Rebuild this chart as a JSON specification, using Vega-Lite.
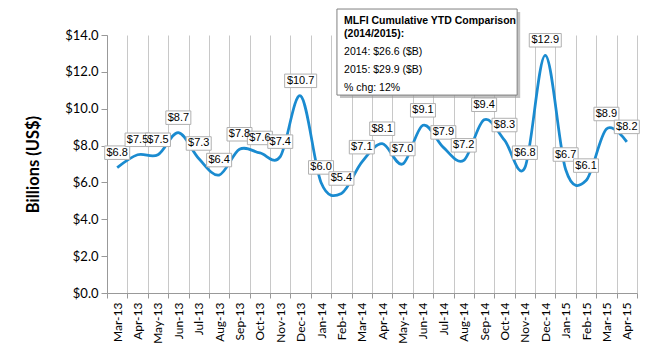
{
  "$schema": "https://vega.github.io/schema/vega-lite/v6.json",
  "width": 530,
  "height": 258,
  "autosize": {"type": "none"},
  "padding": {"left": 107, "top": 35, "right": 13, "bottom": 57},
  "background": "white",
  "config": {"view": {"stroke": null}, "font": "Liberation Sans"},
  "data": {
    "values": [
      {"m": "Mar-13", "v": 6.8}, {"m": "Apr-13", "v": 7.5}, {"m": "May-13", "v": 7.5},
      {"m": "Jun-13", "v": 8.7}, {"m": "Jul-13", "v": 7.3}, {"m": "Aug-13", "v": 6.4},
      {"m": "Sep-13", "v": 7.8}, {"m": "Oct-13", "v": 7.6}, {"m": "Nov-13", "v": 7.4},
      {"m": "Dec-13", "v": 10.7}, {"m": "Jan-14", "v": 6.0}, {"m": "Feb-14", "v": 5.4},
      {"m": "Mar-14", "v": 7.1}, {"m": "Apr-14", "v": 8.1}, {"m": "May-14", "v": 7.0},
      {"m": "Jun-14", "v": 9.1}, {"m": "Jul-14", "v": 7.9}, {"m": "Aug-14", "v": 7.2},
      {"m": "Sep-14", "v": 9.4}, {"m": "Oct-14", "v": 8.3}, {"m": "Nov-14", "v": 6.8},
      {"m": "Dec-14", "v": 12.9}, {"m": "Jan-15", "v": 6.7}, {"m": "Feb-15", "v": 6.1},
      {"m": "Mar-15", "v": 8.9}, {"m": "Apr-15", "v": 8.2}
    ]
  },
  "layer": [
    {
      "encoding": {
        "x": {
          "field": "m", "type": "ordinal", "sort": null,
          "scale": {"type": "band", "paddingInner": 0, "paddingOuter": 0},
          "axis": {
            "title": null, "tickBand": "extent", "grid": true, "gridColor": "#c8c8c8",
            "labelAngle": -90, "labelFont": "Lato", "labelFontSize": 12, "labelColor": "#000",
            "labelOverlap": false,
            "domainColor": "#999", "tickColor": "#999", "tickSize": 5, "labelPadding": 4
          }
        },
        "y": {
          "field": "v", "type": "quantitative",
          "scale": {"domain": [0, 14], "nice": false},
          "axis": {
            "values": [0, 2, 4, 6, 8, 10, 12, 14], "format": "$.1f", "grid": false,
            "labelOverlap": false, "labelFlush": false,
            "domainColor": "#999", "tickColor": "#999", "tickSize": 6,
            "labelFont": "Lato", "labelFontSize": 13, "labelColor": "#000", "labelPadding": 3,
            "title": "Billions (US$)", "titleFont": "Lato", "titleFontSize": 16.5,
            "titleFontWeight": "bold", "titleColor": "#000", "titlePadding": 23
          }
        }
      },
      "layer": [
        {"mark": {"type": "line", "interpolate": "cardinal", "color": "#1a8bd0", "strokeWidth": 2.75}},
        {
          "mark": {"type": "point", "filled": true, "fill": "white", "stroke": "#b0b0b0", "strokeWidth": 1, "opacity": 1, "yOffset": -15},
          "encoding": {
            "shape": {"condition": {"test": "datum.v >= 10", "value": "M-1.28,-0.54H1.28V0.54H-1.28Z"}, "value": "M-1,-0.54H1V0.54H-1Z"},
            "size": {"value": 625}
          }
        },
        {
          "mark": {"type": "text", "yOffset": -15, "fontSize": 11, "font": "Liberation Sans", "color": "#000", "baseline": "middle"},
          "encoding": {"text": {"field": "v", "type": "quantitative", "format": "$.1f"}}
        }
      ]
    },
    {
      "data": {"values": [{}]},
      "layer": [
        {
          "mark": {"type": "rect", "fill": "#999", "opacity": 0.6},
          "encoding": {
            "x": {"datum": 11.43, "type": "quantitative", "scale": {"domain": [0, 26], "nice": false, "zero": false}, "axis": null},
            "x2": {"datum": 20.27},
            "y": {"datum": 15.25, "type": "quantitative", "axis": null},
            "y2": {"datum": 10.58}
          }
        },
        {
          "mark": {"type": "rect", "fill": "white", "stroke": "#808080", "strokeWidth": 1},
          "encoding": {
            "x": {"datum": 11.28, "type": "quantitative", "axis": null},
            "x2": {"datum": 20.12},
            "y": {"datum": 15.41, "type": "quantitative", "axis": null},
            "y2": {"datum": 10.74}
          }
        },
        {
          "mark": {"type": "text", "align": "left", "baseline": "alphabetic", "fontSize": 10.5, "fontWeight": "bold", "lineHeight": 12.7, "color": "#000", "font": "Liberation Sans"},
          "encoding": {
            "x": {"datum": 11.63, "type": "quantitative", "axis": null},
            "y": {"datum": 14.57, "type": "quantitative", "axis": null},
            "text": {"value": ["MLFI Cumulative YTD Comparison", "(2014/2015):"]}
          }
        },
        {
          "mark": {"type": "text", "align": "left", "baseline": "alphabetic", "fontSize": 10.5, "lineHeight": 18.2, "color": "#000", "font": "Liberation Sans"},
          "encoding": {
            "x": {"datum": 11.63, "type": "quantitative", "axis": null},
            "y": {"datum": 12.93, "type": "quantitative", "axis": null},
            "text": {"value": ["2014: $26.6 ($B)", "2015: $29.9  ($B)", "% chg: 12%"]}
          }
        }
      ],
      "resolve": {"axis": {"y": "independent"}}
    }
  ],
  "resolve": {"scale": {"x": "independent"}, "axis": {"x": "independent", "y": "independent"}}
}
